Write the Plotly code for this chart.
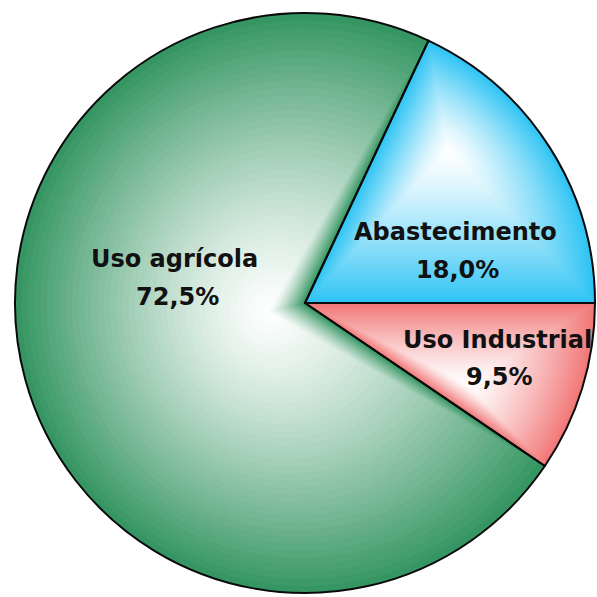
import plotly.graph_objects as go

# ---- data ----
categories = ["Abastecimento", "Uso Industrial", "Uso agrícola"]
values = [18.0, 9.5, 72.5]

# ---- style ----
W = H = 597
base_colors = [(0x30, 0xc4, 0xf4), (0xf2, 0x78, 0x78), (0x36, 0x96, 0x63)]
# focal (whitest) point of each slice's path gradient, in pixels
focal_px = [(448, 150), (468, 385), (268, 312)]
# pie domain in pixels (center 305,303 ; radius 290)
cx, cy, R = 305, 303, 290
dom_x = [(cx - R) / W, (cx + R) / W]
dom_y = [1 - (cy + R) / H, 1 - (cy - R) / H]
ROT = 25.2
# label line centers in pixels: (name line, percent line)
label_px = [((455, 232), (457, 270)), ((497, 340), (499, 377)), ((175, 259), (177, 297))]

NL = 40
fig = go.Figure()
for i in range(len(categories)):
    fx, fy = focal_px[i][0] / W, 1 - focal_px[i][1] / H
    for k in range(NL):
        s = 1 - k / NL
        f = s ** 1.3
        r, g, b = (round(255 * (1 - f) + c * f) for c in base_colors[i])
        cols = ["rgba(0,0,0,0)"] * len(categories)
        cols[i] = f"rgb({r},{g},{b})"
        fig.add_trace(go.Pie(
            labels=categories, values=values, sort=False, direction="clockwise",
            rotation=ROT, marker=dict(colors=cols, line=dict(width=0)),
            textinfo="none", hoverinfo="skip", showlegend=False,
            domain=dict(x=[fx + s * (dom_x[0] - fx), fx + s * (dom_x[1] - fx)],
                        y=[fy + s * (dom_y[0] - fy), fy + s * (dom_y[1] - fy)]),
        ))

# outline layer
fig.add_trace(go.Pie(
    labels=categories, values=values, sort=False, direction="clockwise",
    rotation=ROT, marker=dict(colors=["rgba(0,0,0,0)"] * 3, line=dict(color="#0a0a0a", width=2)),
    textinfo="none", hoverinfo="label+percent", showlegend=False,
    domain=dict(x=dom_x, y=dom_y),
))

font = dict(family="DejaVu Sans", size=24, color="#111111")
annotations = []
for i, name in enumerate(categories):
    pct = f"{values[i]:.1f}".replace(".", ",") + "%"
    (x1, y1), (x2, y2) = label_px[i]
    annotations.append(dict(text=f"<b>{name}</b>", x=x1 / W, y=1 - y1 / H, xref="paper", yref="paper",
                            showarrow=False, xanchor="center", yanchor="middle", font=font))
    annotations.append(dict(text=f"<b>{pct}</b>", x=x2 / W, y=1 - y2 / H, xref="paper", yref="paper",
                            showarrow=False, xanchor="center", yanchor="middle", font=font))

fig.update_layout(width=W, height=H, margin=dict(l=0, r=0, t=0, b=0),
                  paper_bgcolor="white", plot_bgcolor="white", annotations=annotations)
fig.write_html("out.html", config={"displayModeBar": False},
               post_script="document.body.style.margin='0';document.body.style.overflow='hidden';")
